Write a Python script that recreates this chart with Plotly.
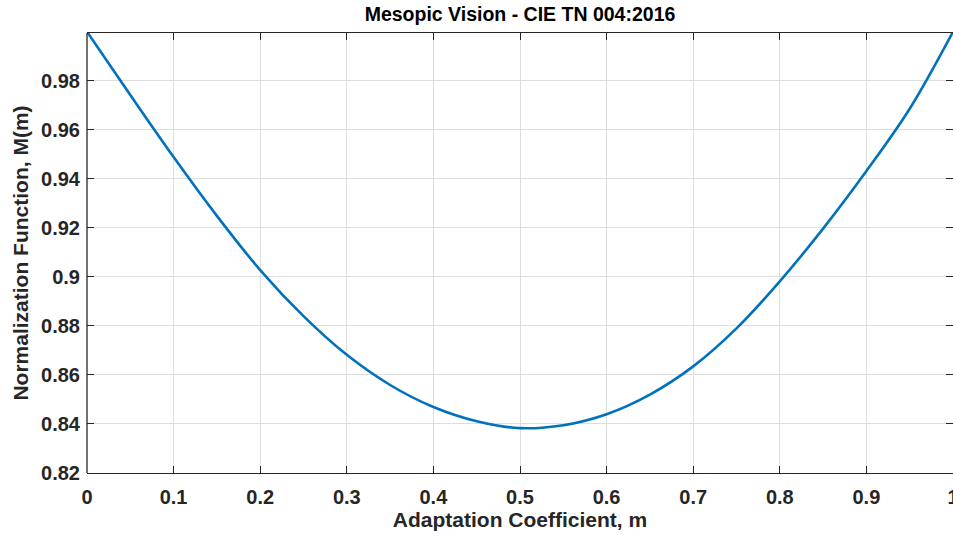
import plotly.graph_objects as go

# Adaptation coefficient m and the normalization function M(m)
m_values = [0.00, 0.05, 0.10, 0.15, 0.20, 0.25, 0.30, 0.35, 0.40, 0.45, 0.50,
            0.55, 0.60, 0.65, 0.70, 0.75, 0.80, 0.85, 0.90, 0.95, 1.00]
M_values = [1.0000, 0.9742, 0.9489, 0.9249, 0.9028, 0.8840, 0.8682, 0.8559,
            0.8469, 0.8411, 0.8383, 0.8395, 0.8440, 0.8520, 0.8635, 0.8790,
            0.8982, 0.9197, 0.9432, 0.9686, 1.0000]

x_ticks = [0, 0.1, 0.2, 0.3, 0.4, 0.5, 0.6, 0.7, 0.8, 0.9, 1.0]
x_tick_labels = ["0", "0.1", "0.2", "0.3", "0.4", "0.5", "0.6", "0.7", "0.8", "0.9", "1"]
y_ticks = [0.82, 0.84, 0.86, 0.88, 0.90, 0.92, 0.94, 0.96, 0.98]
y_tick_labels = ["0.82", "0.84", "0.86", "0.88", "0.9", "0.92", "0.94", "0.96", "0.98"]

FONT = "Liberation Sans, Arial, Helvetica, sans-serif"
AXIS_COLOR = "#262626"
GRID_COLOR = "#dedede"

fig = go.Figure()
fig.add_trace(go.Scatter(
    x=m_values, y=M_values, mode="lines",
    line=dict(color="#0072BD", width=2.6, shape="spline", smoothing=1.0),
    showlegend=False,
))

fig.update_layout(
    width=953, height=537,
    margin=dict(l=87, r=0, t=33, b=64, autoexpand=False),
    paper_bgcolor="white", plot_bgcolor="white",
    font=dict(family=FONT, color=AXIS_COLOR),
    title=dict(
        text="<b>Mesopic Vision - CIE TN 004:2016</b>",
        x=(87 + 953) / 2 / 953, xanchor="center",
        y=1 - 14 / 537, yanchor="middle",
        font=dict(size=19.5, color="#000000", family=FONT),
    ),
    xaxis=dict(
        range=[0, 1], tickvals=x_ticks, ticktext=[f"<b>{t}</b>" for t in x_tick_labels],
        ticks="inside", ticklen=7, tickwidth=1.3, tickcolor=AXIS_COLOR,
        showline=True, linecolor=AXIS_COLOR, linewidth=1.3, mirror="ticks",
        showgrid=True, gridcolor=GRID_COLOR, gridwidth=1, zeroline=False,
        tickfont=dict(size=20, color=AXIS_COLOR), ticklabelstandoff=6,
        ticklabeloverflow="allow", automargin=False,
        title=dict(text="<b>Adaptation Coefficient, m</b>", font=dict(size=21, color=AXIS_COLOR), standoff=4),
    ),
    yaxis=dict(
        range=[0.82, 0.9995], tickvals=y_ticks, ticktext=[f"<b>{t}</b>" for t in y_tick_labels],
        ticks="inside", ticklen=7, tickwidth=1.3, tickcolor=AXIS_COLOR,
        showline=False, mirror="ticks",
        showgrid=True, gridcolor=GRID_COLOR, gridwidth=1, zeroline=False,
        tickfont=dict(size=20, color=AXIS_COLOR), ticklabelstandoff=6,
        automargin=False,
        title=dict(text="<b>Normalization Function, M(m)</b>", font=dict(size=21, color=AXIS_COLOR), standoff=6),
    ),
    shapes=[dict(type="line", xref="paper", yref="paper", x0=0, x1=0, y0=0, y1=1,
                 line=dict(color=AXIS_COLOR, width=1.3), layer="above")],
)

fig.write_html("out.html")
